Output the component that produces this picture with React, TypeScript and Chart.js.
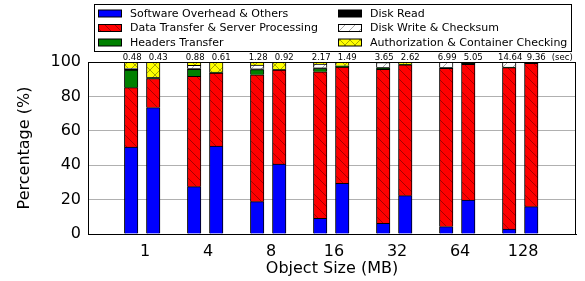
import React, { useEffect, useRef } from 'react';
import { Chart, registerables } from 'chart.js';
Chart.register(...registerables);

const sizes = ['1', '4', '8', '16', '32', '64', '128'];
const timeLabels = ['0.48', '0.43', '0.88', '0.61', '1.28', '0.92', '2.17', '1.49', '3.65', '2.62', '6.99', '5.05', '14.64', '9.36'];
const seriesNames = [
  'Software Overhead & Others',
  'Data Transfer & Server Processing',
  'Headers Transfer',
  'Disk Read',
  'Disk Write & Checksum',
  'Authorization & Container Checking',
];
const software = [50.5, 73.5, 27.5, 51.1, 18.8, 40.6, 9.1, 29.4, 6.2, 22.3, 4.3, 19.7, 2.9, 15.9];
const dataTransfer = [34.6, 16.9, 64.2, 42.4, 73.8, 54.7, 85.2, 67.7, 89.5, 76.1, 92.0, 79.0, 93.8, 83.3];
const headers = [10.2, 0.3, 4.0, 0.3, 3.0, 0.2, 1.9, 0.4, 0.8, 0.2, 0.2, 0.2, 0.1, 0.1];
const diskRead = [0.4, 0.2, 0.5, 0.1, 0.5, 0.1, 0.4, 0.1, 0.3, 0.1, 0.3, 0.3, 0.2, 0.3];
const diskWrite = [0.6, 0.2, 1.9, 0.2, 2.1, 0.2, 2.2, 0.2, 2.9, 0.1, 3.0, 0.3, 2.9, 0.2];
const auth = [3.7, 8.9, 1.9, 5.9, 1.8, 4.2, 1.2, 2.2, 0.3, 1.2, 0.2, 0.5, 0.1, 0.2];
const yTicks = [0, 20, 40, 60, 80, 100];

const FONT = '"DejaVu Sans", sans-serif';

export default function App() {
  const ref = useRef<HTMLCanvasElement>(null);
  useEffect(() => {
    document.body.style.margin = '0';
    const canvas = ref.current!;
    const ctx = canvas.getContext('2d')!;

    const makePattern = (bg: string, kind: string) => {
      const s = 10;
      const c = document.createElement('canvas');
      c.width = s;
      c.height = s;
      const g = c.getContext('2d')!;
      g.fillStyle = bg;
      g.fillRect(0, 0, s, s);
      g.strokeStyle = 'rgba(0,0,0,0.35)';
      g.lineWidth = 1;
      g.beginPath();
      for (const k of [-s, 0, s]) {
        if (kind === '\\' || kind === 'x') {
          g.moveTo(k, 0);
          g.lineTo(k + s, s);
        }
        if (kind === '/' || kind === 'x') {
          g.moveTo(k, s);
          g.lineTo(k + s, 0);
        }
      }
      g.stroke();
      return ctx.createPattern(c, 'repeat')!;
    };

    const fills: (string | CanvasPattern)[] = [
      '#0000ff',
      makePattern('#ff0000', '\\'),
      '#008000',
      '#000000',
      makePattern('#ffffff', '/'),
      makePattern('#ffff00', 'x'),
    ];

    const xs = sizes.flatMap((_, i) => [i - 0.22, i + 0.13]);
    const series = [software, dataTransfer, headers, diskRead, diskWrite, auth];

    const datasets = series.map((vals, k) => ({
      label: seriesNames[k],
      data: vals.map((v, j) => ({ x: xs[j], y: v })),
      backgroundColor: fills[k],
      borderColor: '#000',
      borderWidth: { top: 1, left: 1, right: 1, bottom: 0 },
      borderSkipped: false,
      barThickness: 13.5,
    }));

    const overlay = {
      id: 'overlay',
      afterDatasetsDraw(chart: any) {
        const c = chart.ctx;
        const area = chart.chartArea;
        c.save();
        // frame
        c.strokeStyle = '#000';
        c.lineWidth = 1;
        c.strokeRect(Math.round(area.left) + 0.5, Math.round(area.top) + 0.5, Math.round(area.right - area.left) - 1, Math.round(area.bottom - area.top));
        // time labels
        c.fillStyle = '#000';
        c.font = `8.5px ${FONT}`;
        c.textAlign = 'center';
        c.textBaseline = 'alphabetic';
        const meta = chart.getDatasetMeta(0);
        meta.data.forEach((el: any, j: number) => {
          c.fillText(timeLabels[j], el.x + (j % 2 ? 5 : 1), area.top - 2.5);
        });
        const last = meta.data[meta.data.length - 1];
        c.fillText('(sec)', last.x + 31, area.top - 2.5);

        // legend
        const bx = 94.5, by = 4.5, bw = 477, bh = 47;
        c.strokeStyle = '#000';
        c.lineWidth = 1;
        c.strokeRect(bx, by, bw, bh);
        c.font = `11px ${FONT}`;
        c.textAlign = 'left';
        c.textBaseline = 'middle';
        const rows = [13.5, 28, 42.5];
        const cols = [98, 338];
        for (let k = 0; k < 6; k++) {
          const col = Math.floor(k / 3);
          const row = k % 3;
          const px = cols[col];
          const py = rows[row];
          c.fillStyle = fills[k] as any;
          c.fillRect(px, py - 3.5, 23, 7);
          c.strokeStyle = '#000';
          c.strokeRect(px + 0.5, py - 3.5, 23, 7);
          c.fillStyle = '#000';
          c.fillText(seriesNames[k], px + 32, py + 0.5);
        }
        c.restore();
      },
    };

    const chart = new Chart(ctx, {
      type: 'bar',
      data: { datasets: datasets as any },
      options: {
        animation: false,
        responsive: false,
        layout: { padding: { top: 62, right: 9, left: 0, bottom: 0 } },
        plugins: { legend: { display: false }, tooltip: { enabled: false } },
        scales: {
          x: {
            type: 'linear',
            stacked: true,
            offset: false,
            min: -0.905,
            max: 6.84,
            grid: { display: false, drawTicks: false, offset: false },
            border: { display: true, color: '#000' },
            afterBuildTicks: (scale: any) => {
              scale.ticks = sizes.map((_, i) => ({ value: i }));
            },
            afterFit: (scale: any) => {
              scale.height = 47;
            },
            ticks: {
              padding: 8,
              color: '#000',
              font: { family: FONT, size: 16 },
              autoSkip: false,
              maxRotation: 0,
              callback: (v: any) => sizes[Math.round(Number(v))] ?? '',
            },
            title: {
              display: true,
              text: 'Object Size (MB)',
              color: '#000',
              font: { family: FONT, size: 16 },
              padding: { top: 0, bottom: 3 },
            },
          },
          y: {
            stacked: true,
            min: 0,
            max: 100,
            afterBuildTicks: (scale: any) => {
              scale.ticks = yTicks.map((v) => ({ value: v }));
            },
            afterFit: (scale: any) => {
              scale.width = 88;
            },
            grid: { color: '#b0b0b0', lineWidth: 1, drawTicks: false },
            border: { display: true, color: '#000' },
            ticks: {
              padding: 7,
              color: '#000',
              font: { family: FONT, size: 16 },
            },
            title: {
              display: true,
              text: 'Percentage (%)',
              color: '#000',
              font: { family: FONT, size: 16 },
              padding: { top: 15, bottom: 0 },
            },
          },
        },
      },
      plugins: [overlay],
    });
    return () => chart.destroy();
  }, []);
  return <canvas ref={ref} width={585} height={281} style={{ display: 'block' }} />;
}
